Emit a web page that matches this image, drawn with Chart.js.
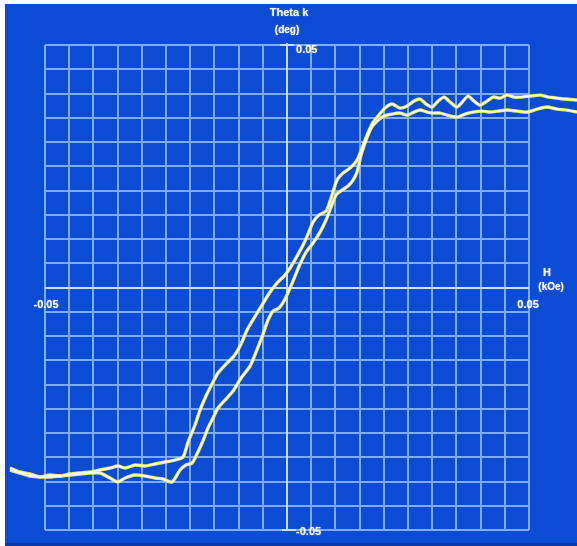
<!DOCTYPE html>
<html>
<head>
<meta charset="utf-8">
<script src="https://cdn.jsdelivr.net/npm/chart.js@4/dist/chart.umd.min.js"></script>
<style>
  html, body { margin: 0; padding: 0; background: #ffffff; }
  #wrap { position: relative; width: 577px; height: 546px; }
</style>
</head>
<body>
<div id="wrap"><canvas id="kerr" width="577" height="546"></canvas></div>
<script>
// Kerr rotation loop: Theta k (deg) against applied field H (kOe)

// Field values (kOe) of the first trace
const fieldA = [-0.05723,-0.05517,-0.05310,-0.05103,-0.04897,-0.04690,-0.04483,-0.04277,-0.04070,-0.03864,
  -0.03657,-0.03492,-0.03347,-0.03140,-0.02934,-0.02727,-0.02521,-0.02314,-0.02149,-0.02045,
  -0.01901,-0.01798,-0.01674,-0.01550,-0.01426,-0.01260,-0.01095,-0.00950,-0.00826,-0.00682,
  -0.00517,-0.00351,-0.00207,-0.00062,0.00062,0.00207,0.00331,0.00434,0.00537,0.00661,
  0.00806,0.00909,0.01033,0.01157,0.01302,0.01446,0.01550,0.01653,0.01756,0.01880,
  0.02025,0.02169,0.02335,0.02479,0.02624,0.02748,0.02872,0.02996,0.03120,0.03244,
  0.03368,0.03512,0.03636,0.03740,0.03864,0.03988,0.04132,0.04256,0.04401,0.04545,
  0.04690,0.04814,0.05021,0.05227,0.05393,0.05579,0.05744,0.05992];

// Kerr rotation (deg) of the first trace
const thetaA = [-0.03722,-0.03804,-0.03845,-0.03907,-0.03866,-0.03887,-0.03845,-0.03825,-0.03804,-0.03763,
  -0.03722,-0.03680,-0.03722,-0.03660,-0.03680,-0.03639,-0.03598,-0.03557,-0.03495,-0.03186,
  -0.02835,-0.02526,-0.02237,-0.01990,-0.01763,-0.01577,-0.01412,-0.01165,-0.00876,-0.00629,
  -0.00361,-0.00093,0.00093,0.00237,0.00402,0.00649,0.00876,0.01103,0.01351,0.01495,
  0.01577,0.01845,0.02216,0.02361,0.02464,0.02629,0.02876,0.03144,0.03371,0.03536,
  0.03701,0.03784,0.03701,0.03742,0.03845,0.03887,0.03784,0.03722,0.03845,0.03928,
  0.03825,0.03722,0.03845,0.03948,0.03845,0.03763,0.03845,0.03928,0.03907,0.03969,
  0.03928,0.03928,0.03948,0.03969,0.03928,0.03907,0.03887,0.03866];

// Field values (kOe) of the second trace
const fieldB = [-0.05723,-0.05517,-0.05310,-0.05103,-0.04897,-0.04690,-0.04483,-0.04277,-0.04070,-0.03864,
  -0.03657,-0.03492,-0.03347,-0.03140,-0.02934,-0.02727,-0.02562,-0.02376,-0.02211,-0.02087,
  -0.01963,-0.01860,-0.01756,-0.01632,-0.01529,-0.01426,-0.01260,-0.01116,-0.00950,-0.00764,
  -0.00640,-0.00496,-0.00393,-0.00289,-0.00165,-0.00041,0.00062,0.00165,0.00269,0.00393,
  0.00537,0.00682,0.00806,0.00909,0.01012,0.01136,0.01260,0.01364,0.01446,0.01529,
  0.01632,0.01736,0.01860,0.02004,0.02169,0.02335,0.02479,0.02624,0.02748,0.02893,
  0.03017,0.03161,0.03306,0.03512,0.03678,0.03843,0.04029,0.04194,0.04360,0.04545,
  0.04752,0.04959,0.05165,0.05372,0.05579,0.05785,0.05992];

// Kerr rotation (deg) of the second trace
const thetaB = [-0.03763,-0.03825,-0.03887,-0.03907,-0.03907,-0.03887,-0.03866,-0.03845,-0.03825,-0.03825,
  -0.03928,-0.04010,-0.03928,-0.03866,-0.03887,-0.03928,-0.03948,-0.04010,-0.03763,-0.03660,
  -0.03619,-0.03433,-0.03206,-0.02897,-0.02691,-0.02485,-0.02299,-0.02134,-0.01866,-0.01619,
  -0.01330,-0.00959,-0.00670,-0.00485,-0.00423,-0.00237,-0.00010,0.00237,0.00485,0.00732,
  0.00918,0.01144,0.01392,0.01660,0.01907,0.02010,0.02093,0.02216,0.02381,0.02732,
  0.03041,0.03289,0.03433,0.03536,0.03577,0.03598,0.03557,0.03619,0.03660,0.03619,
  0.03598,0.03598,0.03557,0.03515,0.03577,0.03619,0.03639,0.03619,0.03639,0.03660,
  0.03639,0.03619,0.03680,0.03722,0.03680,0.03660,0.03619];

// Grid divisions (both axes share the same 0.005 step)
const gridValues = [-0.05,-0.045,-0.04,-0.035,-0.03,-0.025,-0.02,-0.015,-0.01,-0.005,0,
  0.005,0.01,0.015,0.02,0.025,0.03,0.035,0.04,0.045,0.05];

// Tick labels at the ends of each axis
const xTickValues = [-0.05, 0.05];
const xTickLabels = ['-0.05', '0.05'];
const yTickValues = [0.05, -0.05];
const yTickLabels = ['0.05', '-0.05'];

// Axis titles
const yTitle = ['Theta k', '(deg)'];
const xTitle = ['H', '(kOe)'];

const toPoints = (xs, ys) => xs.map((x, i) => ({ x: x, y: ys[i] }));

const BG = '#0c4bd3';
const GRID = 'rgba(125,172,255,1)';
const AXIS = 'rgba(200,220,255,1)';
const TEXT = '#ffffff';
const FONT = "bold 11px 'Liberation Sans', Arial, sans-serif";

const scopePlugin = {
  id: 'scope',
  beforeDraw(chart) {
    const ctx = chart.ctx;
    const { width, height } = chart;
    ctx.save();
    ctx.fillStyle = '#ffffff';
    ctx.fillRect(0, 0, width, height);
    ctx.fillStyle = BG;
    ctx.fillRect(5, 4, width - 5, height - 4);
    ctx.fillStyle = '#0a3aa8';
    ctx.fillRect(5, height - 3, width - 5, 3);
    ctx.restore();
  },
  beforeDatasetsDraw(chart) {
    const ctx = chart.ctx;
    const xs = chart.scales.x, ys = chart.scales.y;
    const gMin = gridValues[0], gMax = gridValues[gridValues.length - 1];
    const left = xs.getPixelForValue(gMin), right = xs.getPixelForValue(gMax);
    const top = ys.getPixelForValue(gMax), bottom = ys.getPixelForValue(gMin);
    ctx.save();
    ctx.lineWidth = 2;
    ctx.strokeStyle = GRID;
    ctx.beginPath();
    gridValues.forEach(v => {
      if (v === 0) return;
      const px = Math.round(xs.getPixelForValue(v));
      ctx.moveTo(px, top); ctx.lineTo(px, bottom);
      const py = Math.round(ys.getPixelForValue(v));
      ctx.moveTo(left, py); ctx.lineTo(right, py);
    });
    ctx.stroke();
    // central axes
    const x0 = Math.round(xs.getPixelForValue(0));
    const y0 = Math.round(ys.getPixelForValue(0));
    ctx.strokeStyle = AXIS;
    ctx.beginPath();
    ctx.moveTo(x0, top - 2); ctx.lineTo(x0, bottom);
    ctx.moveTo(left, y0); ctx.lineTo(right, y0);
    // end ticks on the vertical axis
    ctx.moveTo(x0 - 7, top); ctx.lineTo(x0 + 7, top);
    ctx.moveTo(x0 - 5, bottom); ctx.lineTo(x0 + 9, bottom);
    ctx.stroke();
    ctx.restore();
  },
  afterDraw(chart) {
    const ctx = chart.ctx;
    const xs = chart.scales.x, ys = chart.scales.y;
    const x0 = xs.getPixelForValue(0);
    const y0 = ys.getPixelForValue(0);
    ctx.save();
    ctx.fillStyle = TEXT;
    ctx.font = FONT;
    ctx.textBaseline = 'middle';
    ctx.shadowColor = 'rgba(255,255,255,0.6)';
    ctx.shadowBlur = 1.5;
    // y axis title above the plot
    ctx.textAlign = 'center';
    ctx.fillText(yTitle[0], x0 + 2, 13);
    ctx.font = "bold 10px 'Liberation Sans', Arial, sans-serif";
    ctx.fillText(yTitle[1], x0, 30);
    ctx.font = FONT;
    // y tick labels beside the axis ends
    yTickValues.forEach((v, i) => {
      const py = ys.getPixelForValue(v);
      ctx.textAlign = 'left';
      ctx.fillText(yTickLabels[i], x0 + 9, py + (v > 0 ? 5 : 2));
    });
    // x tick labels below the axis ends
    xTickValues.forEach((v, i) => {
      const px = xs.getPixelForValue(v);
      ctx.textAlign = 'center';
      ctx.fillText(xTickLabels[i], px + (v < 0 ? 1 : -1), y0 + 17);
    });
    // x axis title at the right end
    const xr = xs.getPixelForValue(xTickValues[1]);
    ctx.textAlign = 'center';
    ctx.fillText(xTitle[0], xr + 18, y0 - 15);
    ctx.font = "bold 10px 'Liberation Sans', Arial, sans-serif";
    ctx.fillText(xTitle[1], xr + 22, y0);
    ctx.restore();
  }
};

// yellow fringe underneath, pale core on top (lower order draws last)
const lineStyle = (color, width, order) => ({
  borderColor: color,
  borderWidth: width,
  order: order,
  pointRadius: 0,
  tension: 0.25,
  fill: false,
  showLine: true
});

new Chart(document.getElementById('kerr'), {
  type: 'scatter',
  data: {
    datasets: [
      Object.assign({ label: 'trace A fringe', data: toPoints(fieldA, thetaA) }, lineStyle('rgba(238,238,110,0.95)', 3.4, 2)),
      Object.assign({ label: 'trace B fringe', data: toPoints(fieldB, thetaB) }, lineStyle('rgba(238,238,110,0.95)', 3.4, 2)),
      Object.assign({ label: 'trace A', data: toPoints(fieldA, thetaA) }, lineStyle('rgba(255,255,240,1)', 1.5, 1)),
      Object.assign({ label: 'trace B', data: toPoints(fieldB, thetaB) }, lineStyle('rgba(255,255,240,1)', 1.5, 1))
    ]
  },
  options: {
    responsive: false,
    animation: false,
    devicePixelRatio: 1,
    layout: { padding: 0 },
    plugins: { legend: { display: false }, tooltip: { enabled: false } },
    scales: {
      x: { type: 'linear', min: -0.0593, max: 0.0599, display: false },
      y: { type: 'linear', min: -0.0533, max: 0.0593, display: false }
    }
  },
  plugins: [scopePlugin]
});
</script>
</body>
</html>
